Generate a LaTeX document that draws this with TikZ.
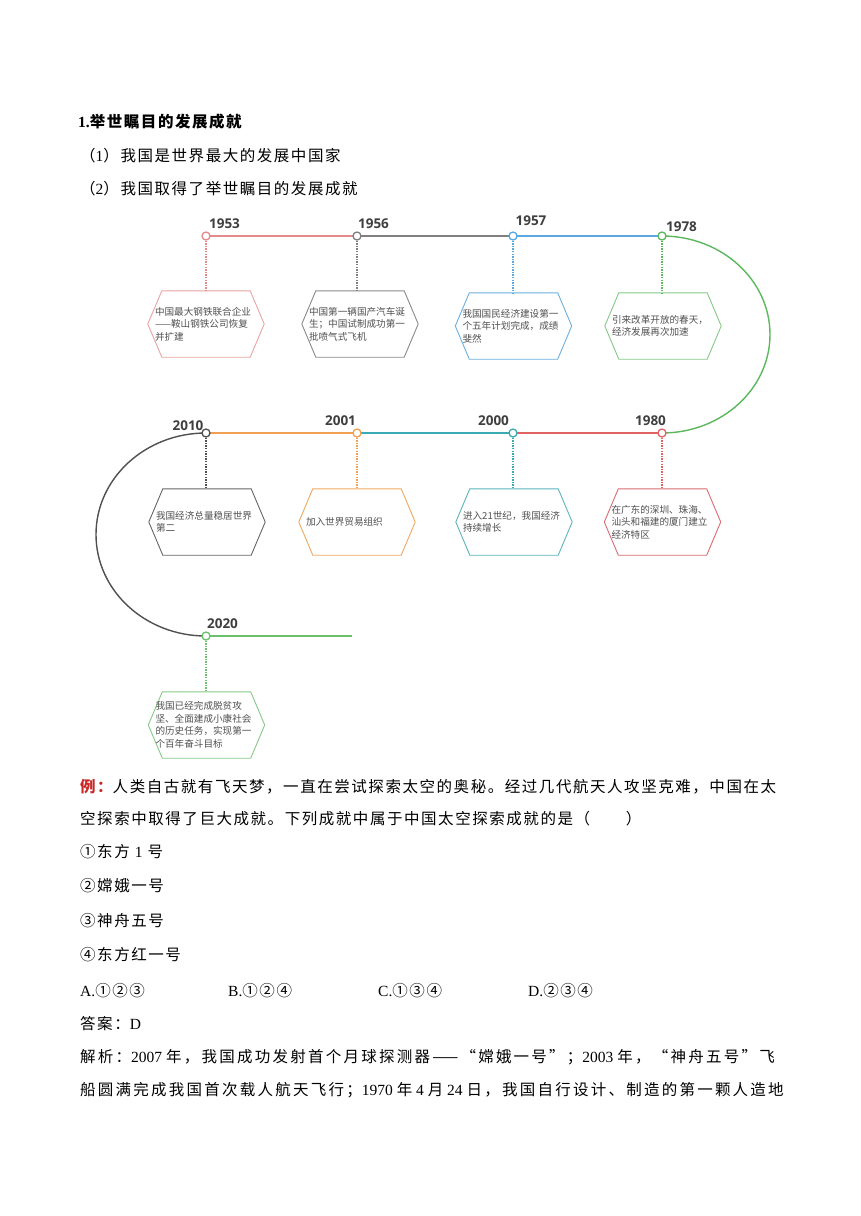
\documentclass[tikz,border=0pt]{standalone}
\usepackage{fontspec}
\setmainfont{Liberation Serif}
\newfontfamily\cjk[LetterSpace=10]{Noto Sans CJK SC}
\newfontfamily\cjkw[LetterSpace=14.5]{Noto Sans CJK SC}
\newfontfamily\hexf{Noto Sans CJK SC}
\newfontfamily\yearf{Open Sans}
\usetikzlibrary{calc}
\definecolor{c1953}{HTML}{E48A8A}
\definecolor{c1956}{HTML}{808080}
\definecolor{c1957}{HTML}{5BA8E0}
\definecolor{c1978}{HTML}{5CB85C}
\definecolor{c1980}{HTML}{E06262}
\definecolor{c2000}{HTML}{3AAAB5}
\definecolor{c2001}{HTML}{F0A050}
\definecolor{c2010}{HTML}{505050}
\definecolor{c2020}{HTML}{6CC06C}
\definecolor{hx1953}{HTML}{E8A4A4}
\definecolor{hx1956}{HTML}{8A8A8A}
\definecolor{hx1957}{HTML}{6BB0E0}
\definecolor{hx1978}{HTML}{86C986}
\definecolor{hx1980}{HTML}{D96B73}
\definecolor{hx2000}{HTML}{5DB5BB}
\definecolor{hx2001}{HTML}{F0A860}
\definecolor{hx2010}{HTML}{666666}
\definecolor{hx2020}{HTML}{86C986}
\definecolor{hexgray}{HTML}{505050}
\definecolor{yeargray}{HTML}{3F3F3F}
\definecolor{exred}{HTML}{C82828}
\newcommand\mkhex[5]{%
  \node[hexcore] (#1) at (#2,#3) {};
  \draw[hexline=#4] (#1.north west) -- (#1.north east) -- ([xshift=14pt]#1.east)
    -- (#1.south east) -- (#1.south west) -- ([xshift=-14pt]#1.west) -- cycle;
  \node[hextext] (#1t) at ([xshift=-7pt]#1.west) {#5};
}
\begin{document}
\begin{tikzpicture}[x=1pt,y=1pt]
\tikzset{
  dotn/.style={circle, draw=#1, fill=white, line width=1.3pt, minimum size=8pt, inner sep=0pt},
  tl/.style={draw=#1, line width=1.8pt},
  arcl/.style={draw=#1, line width=1.4pt},
  vline/.style={draw=#1, line width=1.3pt, dash pattern=on 1.3pt off 1.3pt},
  hexcore/.style={minimum width=88pt, minimum height=66pt, inner sep=0pt},
  hexline/.style={draw=#1, line width=0.9pt, fill=white},
  hextext/.style={font=\hexf\fontsize{9.6}{12.5}\selectfont, text=hexgray, align=left, inner sep=0pt, anchor=west},
  year/.style={font=\yearf\bfseries\fontsize{13.5}{16}\selectfont, text=yeargray, inner sep=0pt},
  body/.style={font=\cjk\fontsize{15.5}{18}\selectfont, anchor=base west, inner sep=0pt},
  bodyw/.style={font=\cjkw\fontsize{15.5}{18}\selectfont, anchor=base west, inner sep=0pt},
}
\useasboundingbox[fill=white] (0,0) rectangle (860,-1216);

% header text
\node[body] (title) at (78,-127) {{\rmfamily\bfseries 1.}{\bfseries 举世瞩目的发展成就}};
\node[body] (l1) at (80,-161) {（{\rmfamily 1}）我国是世界最大的发展中国家};
\node[body] (l2) at (80,-194) {（{\rmfamily 2}）我国取得了举世瞩目的发展成就};

% timeline anchor points
\coordinate (p1953) at (206,-236);
\coordinate (p1956) at (357,-236);
\coordinate (p1957) at (513,-236);
\coordinate (p1978) at (662,-236);
\coordinate (p1980) at (662,-433);
\coordinate (p2000) at (513,-433);
\coordinate (p2001) at (357,-433);
\coordinate (p2010) at (206,-433);
\coordinate (p2020) at (206,-636);
\coordinate (pend) at (352,-636);

% timeline lines
\draw[tl=c1953] (p1953) -- (p1956);
\draw[tl=c1956] (p1956) -- (p1957);
\draw[tl=c1957] (p1957) -- (p1978);
\draw[arcl=c1978] (p1978) arc[start angle=90, end angle=-90, x radius=108, y radius=98.5];
\draw[tl=c1980] (p1980) -- (p2000);
\draw[tl=c2000] (p2000) -- (p2001);
\draw[tl=c2001] (p2001) -- (p2010);
\draw[arcl=c2010] (p2010) arc[start angle=90, end angle=270, x radius=110, y radius=101.5];
\draw[tl=c2020] (p2020) -- (pend);

% hexagons
\mkhex{h1953}{206}{-324}{hx1953}{中国最大钢铁联合企业\\——鞍山钢铁公司恢复\\并扩建}
\mkhex{h1956}{360}{-324}{hx1956}{中国第一辆国产汽车诞\\生；中国试制成功第一\\批喷气式飞机}
\mkhex{h1957}{513.5}{-326}{hx1957}{我国国民经济建设第一\\个五年计划完成，成绩\\斐然}
\mkhex{h1978}{663}{-326}{hx1978}{引来改革开放的春天，\\经济发展再次加速}
\mkhex{h2010}{207}{-522}{hx2010}{我国经济总量稳居世界\\第二}
\mkhex{h2001}{357}{-522}{hx2001}{加入世界贸易组织}
\mkhex{h2000}{514}{-522}{hx2000}{进入21世纪，我国经济\\持续增长}
\mkhex{h1980}{662.5}{-522}{hx1980}{在广东的深圳、珠海、\\汕头和福建的厦门建立\\经济特区}
\mkhex{h2020}{206.5}{-725}{hx2020}{我国已经完成脱贫攻\\坚、全面建成小康社会\\的历史任务，实现第一\\个百年奋斗目标}

% dots
\node[dotn=c1953] (n1953) at (p1953) {};
\node[dotn=c1956] (n1956) at (p1956) {};
\node[dotn=c1957] (n1957) at (p1957) {};
\node[dotn=c1978] (n1978) at (p1978) {};
\node[dotn=c1980] (n1980) at (p1980) {};
\node[dotn=c2000] (n2000) at (p2000) {};
\node[dotn=c2001] (n2001) at (p2001) {};
\node[dotn=c2010] (n2010) at (p2010) {};
\node[dotn=c2020] (n2020) at (p2020) {};

% dotted connectors
\draw[vline=c1953] (n1953) -- (n1953 |- h1953.north);
\draw[vline=c1956] (n1956) -- (n1956 |- h1956.north);
\draw[vline=c1957] (n1957) -- (n1957 |- h1957.north);
\draw[vline=c1978] (n1978) -- (n1978 |- h1978.north);
\draw[vline=c1980] (n1980) -- (n1980 |- h1980.north);
\draw[vline=c2000] (n2000) -- (n2000 |- h2000.north);
\draw[vline=c2001] (n2001) -- (n2001 |- h2001.north);
\draw[vline=c2010] (n2010) -- (n2010 |- h2010.north);
\draw[vline=c2020] (n2020) -- (n2020 |- h2020.north);

% year labels
\node[year] (y1953) at (224.5,-224) {1953};
\node[year] (y1956) at (373.5,-224) {1956};
\node[year] (y1957) at (531,-221) {1957};
\node[year] (y1978) at (681.5,-227) {1978};
\node[year] (y2010) at (188,-426) {2010};
\node[year] (y2001) at (340.5,-421) {2001};
\node[year] (y2000) at (493.5,-421) {2000};
\node[year] (y1980) at (650.5,-421) {1980};
\node[year] (y2020) at (222.5,-624) {2020};

% example text
\node[body] (e1) at (80,-792) {{\color{exred}\bfseries 例：}人类自古就有飞天梦，一直在尝试探索太空的奥秘。经过几代航天人攻坚克难，中国在太};
\node[body] (e2) at (80,-824) {空探索中取得了巨大成就。下列成就中属于中国太空探索成就的是（　　）};
\node[body] (e3) at (80,-857) {①东方 {\rmfamily 1} 号};
\node[body] (e4) at (80,-891) {②嫦娥一号};
\node[body] (e5) at (80,-926) {③神舟五号};
\node[body] (e6) at (80,-960) {④东方红一号};
\node[body] (oa) at (80,-996) {{\rmfamily A.}①②③};
\node[body] (ob) at (228,-996) {{\rmfamily B.}①②④};
\node[body] (oc) at (378,-996) {{\rmfamily C.}①③④};
\node[body] (od) at (528,-996) {{\rmfamily D.}②③④};
\node[body] (ans) at (80,-1029) {答案：{\rmfamily D}};
\node[bodyw] (x1) at (80,-1062) {解析：{\rmfamily 2007 }年，我国成功发射首个月球探测器——“嫦娥一号”；{\rmfamily 2003 }年，“神舟五号”飞};
\node[bodyw] (x2) at (80,-1095) {船圆满完成我国首次载人航天飞行；{\rmfamily 1970 }年{\rmfamily\ 4 }月{\rmfamily\ 24 }日，我国自行设计、制造的第一颗人造地};
\end{tikzpicture}
\end{document}
